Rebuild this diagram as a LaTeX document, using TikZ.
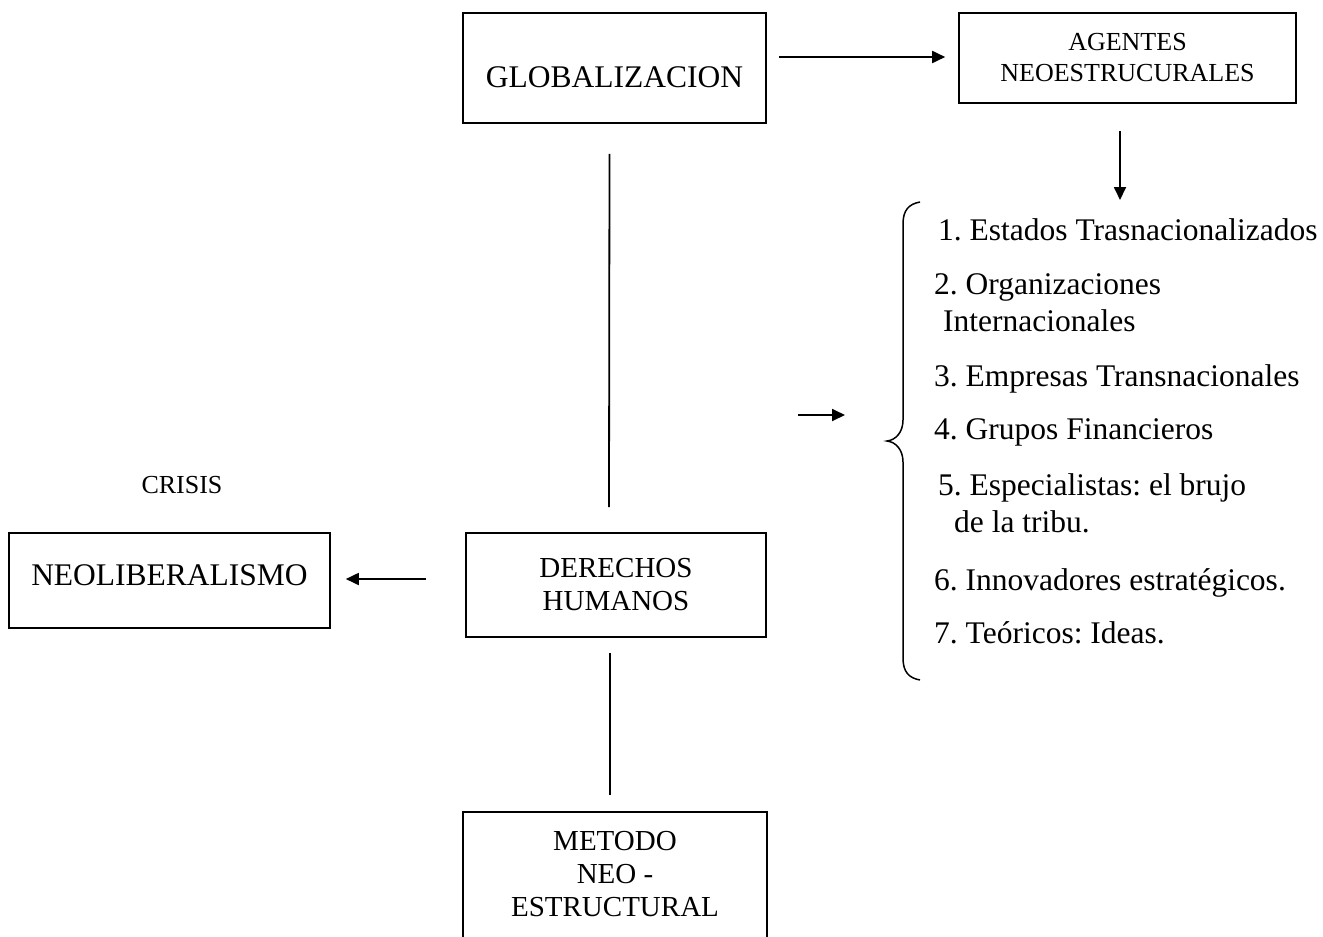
\documentclass[tikz,border=0pt]{standalone}
\usepackage{fontspec}
\setmainfont{Liberation Serif}
\usetikzlibrary{arrows.meta,calc}
\frenchspacing
\begin{document}
\begin{tikzpicture}[x=1pt,y=-1pt,
  box/.style={draw, line width=1.6pt, inner sep=0pt},
  arr/.style={line width=1.8pt, -{Triangle[length=13pt,width=12pt]}},
  ln/.style={line width=1.8pt},
  bracestyle/.style={line width=1.5pt},
  big/.style={font=\fontsize{31.5}{36.5}\selectfont},
  med/.style={font=\fontsize{29}{33}\selectfont},
  sml/.style={font=\fontsize{26}{31}\selectfont},
  item/.style={big, inner sep=0pt, align=left, anchor=base west},
  itemtwo/.style={big, inner sep=0pt, align=left, anchor=north west}]
\useasboundingbox[fill=white] (0,0) rectangle (1323,937);

% boxes
\node[box, big, minimum width=303pt, minimum height=110pt, text height=38pt, text depth=0pt] (glob) at (614.5,68) {GLOBALIZACION};
\node[box, sml, align=center, minimum width=337pt, minimum height=90pt] (agent) at (1127.5,58) {AGENTES\\NEOESTRUCURALES};
\node[box, big, minimum width=321pt, minimum height=95pt, text height=21pt, text depth=12pt] (neo) at (169.5,580.5) {NEOLIBERALISMO};
\node[box, med, align=center, minimum width=300pt, minimum height=104pt] (der) at (616,585) {DERECHOS\\HUMANOS};
\node[med, align=center, inner sep=0pt, minimum width=304pt, minimum height=125pt] (met) at (615,874.5) {METODO\\NEO -\\ESTRUCTURAL};
\draw[line width=1.6pt] (met.south west) -- (met.north west) -- (met.north east) -- (met.south east);
\node[sml, inner sep=0pt, anchor=base] (crisis) at (182,493) {CRISIS};

% list
\node[item] (i1) at (938,240) {1. Estados Trasnacionalizados};
\node[itemtwo] (i2) at (934,273.5) {2. Organizaciones\\\hspace*{9pt}Internacionales};
\node[item] (i3) at (934,386) {3. Empresas Transnacionales};
\node[item] (i4) at (934,439) {4. Grupos Financieros};
\node[itemtwo] (i5) at (938,473.5) {5. Especialistas: el brujo\\\hspace*{16pt}de la tribu.};
\node[item] (i6) at (934,590) {6. Innovadores estratégicos.};
\node[item] (i7) at (934,643) {7. Teóricos: Ideas.};

% brace
\draw[bracestyle] (920,202) .. controls (909,204) and (903,210) .. (903,224)
  -- (903,420) .. controls (903,432) and (896,440) .. (887,441)
  .. controls (896,442) and (903,450) .. (903,462)
  -- (903,658) .. controls (903,672) and (909,678) .. (920,680);

% connectors
\coordinate (downtip) at (1120,200);
\coordinate (sa) at (798,415);
\coordinate (sb) at (845,415);
\draw[arr] ($(glob.east)+(12,-11)$) -- ($(agent.west)+(-13,-1)$);
\draw[arr] ($(agent.south)+(-7.5,27)$) -- (downtip);
\draw[ln] ($(glob.south)+(-5,30)$) -- ($(der.north)+(-7,-25)$);
\draw[ln] ($(der.south)+(-6,15)$) -- ($(met.north)+(-5,-17)$);
\draw[arr] ($(der.west)+(-39,-6)$) -- ($(neo.east)+(15,-1.5)$);
\draw[arr] (sa) -- (sb);
\end{tikzpicture}
\end{document}
